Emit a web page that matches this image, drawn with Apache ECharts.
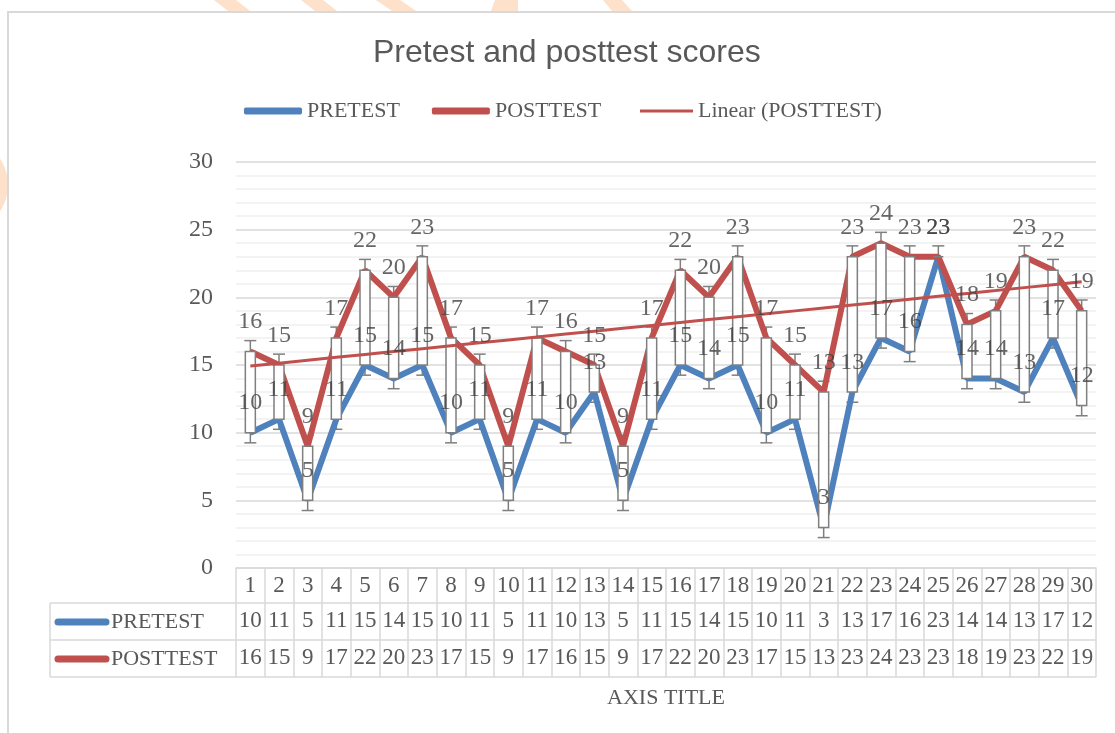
<!DOCTYPE html>
<html>
<head>
<meta charset="utf-8">
<title>Pretest and posttest scores</title>
<script src="https://cdn.jsdelivr.net/npm/echarts@6/dist/echarts.min.js"></script>
<style>
  html, body { margin: 0; padding: 0; background: #fff; }
  #chart { width: 1115px; height: 733px; }
</style>
</head>
<body>
<div id="chart"></div>
<script>
// data (x categories, two series)
const categories = ['1', '2', '3', '4', '5', '6', '7', '8', '9', '10',
  '11', '12', '13', '14', '15', '16', '17', '18', '19', '20',
  '21', '22', '23', '24', '25', '26', '27', '28', '29', '30']
const pretest = [10, 11, 5, 11, 15, 14, 15, 10, 11, 5, 11, 10, 13, 5, 11, 15, 14, 15, 10, 11, 3, 13, 17, 16, 23, 14, 14, 13, 17, 12]
const posttest = [16, 15, 9, 17, 22, 20, 23, 17, 15, 9, 17, 16, 15, 9, 17, 22, 20, 23, 17, 15, 13, 23, 24, 23, 23, 18, 19, 23, 22, 19]
const yTicks = [0, 5, 10, 15, 20, 25, 30]

const SERIF = "'Liberation Serif', 'DejaVu Serif', serif"
const SANS = "'Liberation Sans', Arial, sans-serif"
const BLUE = '#4F81BD'
const RED = '#C0504D'
const GRAY_TXT = '#595959'
const LINE_GRAY = '#d9d9d9'

// excel style standard error (error bars)
const stdErr = (arr) => {
  const m = arr.reduce((a, b) => a + b, 0) / arr.length
  const v = arr.reduce((a, b) => a + (b - m) * (b - m), 0) / (arr.length - 1)
  return Math.sqrt(v) / Math.sqrt(arr.length)
}
const preErr = stdErr(pretest)
const postErr = stdErr(posttest)

// linear trendline of posttest (least squares over x = 1..n)
const trend = (() => {
  const n = posttest.length
  const xs = posttest.map((_, i) => i + 1)
  const mx = xs.reduce((a, b) => a + b, 0) / n
  const my = posttest.reduce((a, b) => a + b, 0) / n
  let sxy = 0, sxx = 0
  xs.forEach((x, i) => { sxy += (x - mx) * (posttest[i] - my); sxx += (x - mx) * (x - mx) })
  const k = sxy / sxx
  return xs.map(x => +(my + k * (x - mx)).toFixed(3))
})()

const pairs = pretest.map((v, i) => [i, v, posttest[i]])

const chart = echarts.init(document.getElementById('chart'))

const labelStyle = { fontFamily: SERIF, fontSize: 24, color: '#404040' }
const tableText = { interval: 0, margin: 18, verticalAlign: 'middle', fontFamily: SERIF, fontSize: 23, color: GRAY_TXT }

const option = {
  animation: false,
  backgroundColor: '#fff',
  title: {
    text: 'Pretest and posttest scores',
    left: 373,
    top: 37,
    padding: 0,
    textStyle: { fontFamily: SANS, fontSize: 32, fontWeight: 'normal', color: GRAY_TXT }
  },
  legend: [
    {
      data: ['PRETEST', 'POSTTEST'],
      left: 244,
      top: 100,
      padding: 0,
      icon: 'roundRect',
      itemWidth: 58,
      itemHeight: 7,
      itemGap: 32,
      textStyle: { fontFamily: SERIF, fontSize: 22, color: GRAY_TXT }
    },
    {
      data: ['Linear (POSTTEST)'],
      left: 640,
      top: 100,
      padding: 0,
      icon: 'rect',
      itemWidth: 53,
      itemHeight: 3,
      textStyle: { fontFamily: SERIF, fontSize: 22, color: GRAY_TXT }
    }
  ],
  grid: { left: 236, right: 19, top: 162, bottom: 165 },
  xAxis: [
    {
      type: 'category',
      data: categories,
      boundaryGap: true,
      axisLine: { lineStyle: { color: LINE_GRAY, width: 1.5 } },
      axisTick: { show: true, interval: 0, length: 109, lineStyle: { color: LINE_GRAY, width: 1.5 } },
      axisLabel: tableText,
      name: 'AXIS TITLE',
      nameLocation: 'middle',
      nameGap: 119,
      nameTextStyle: { fontFamily: SERIF, fontSize: 22, color: GRAY_TXT }
    },
    {
      type: 'category',
      data: pretest.map(String),
      position: 'bottom',
      offset: 35,
      axisLine: { show: false },
      axisTick: { show: false },
      axisLabel: tableText
    },
    {
      type: 'category',
      data: posttest.map(String),
      position: 'bottom',
      offset: 72,
      axisLine: { show: false },
      axisTick: { show: false },
      axisLabel: tableText
    }
  ],
  yAxis: {
    type: 'value',
    min: yTicks[0],
    max: yTicks[yTicks.length - 1],
    interval: 5,
    axisLine: { show: false },
    axisTick: { show: false },
    axisLabel: { margin: 23, fontFamily: SERIF, fontSize: 24, color: GRAY_TXT },
    splitLine: { lineStyle: { color: LINE_GRAY, width: 1.5 } },
    minorTick: { show: false, splitNumber: 5 },
    minorSplitLine: { show: true, lineStyle: { color: '#efefef', width: 1.5 } }
  },
  series: [
    // error bars (under everything)
    {
      type: 'custom',
      name: 'err',
      z: 1,
      silent: true,
      data: pairs,
      encode: { x: 0, y: [1, 2] },
      renderItem: (params, api) => {
        const x = api.value(0)
        const a = api.coord([x, api.value(1)])
        const a2 = api.coord([x, api.value(1) - preErr])
        const b = api.coord([x, api.value(2)])
        const b2 = api.coord([x, api.value(2) + postErr])
        const st = { stroke: '#7f7f7f', lineWidth: 1.5 }
        return {
          type: 'group',
          children: [
            { type: 'line', shape: { x1: a[0], y1: a[1], x2: a2[0], y2: a2[1] }, style: st },
            { type: 'line', shape: { x1: a2[0] - 6, y1: a2[1], x2: a2[0] + 6, y2: a2[1] }, style: st },
            { type: 'line', shape: { x1: b[0], y1: b[1], x2: b2[0], y2: b2[1] }, style: st },
            { type: 'line', shape: { x1: b2[0] - 6, y1: b2[1], x2: b2[0] + 6, y2: b2[1] }, style: st }
          ]
        }
      }
    },
    {
      name: 'PRETEST',
      type: 'line',
      z: 2,
      data: pretest,
      symbol: 'none',
      lineStyle: { color: BLUE, width: 6 },
      itemStyle: { color: BLUE }
    },
    {
      name: 'POSTTEST',
      type: 'line',
      z: 2,
      data: posttest,
      symbol: 'none',
      lineStyle: { color: RED, width: 6 },
      itemStyle: { color: RED }
    },
    // up/down bars
    {
      type: 'custom',
      name: 'updown',
      z: 3,
      silent: true,
      data: pairs,
      encode: { x: 0, y: [1, 2] },
      renderItem: (params, api) => {
        const x = api.value(0)
        const a = api.coord([x, api.value(1)])
        const b = api.coord([x, api.value(2)])
        return {
          type: 'rect',
          shape: { x: a[0] - 5, y: Math.min(a[1], b[1]), width: 10, height: Math.abs(a[1] - b[1]) },
          style: { fill: '#fff', stroke: '#7f7f7f', lineWidth: 1.5 }
        }
      }
    },
    {
      name: 'Linear (POSTTEST)',
      type: 'line',
      z: 4,
      data: trend,
      symbol: 'none',
      lineStyle: { color: RED, width: 3 },
      itemStyle: { color: RED }
    },
    // data labels on top
    {
      name: 'preLabels',
      type: 'scatter',
      z: 6,
      silent: true,
      data: pretest,
      symbolSize: 1,
      itemStyle: { color: 'rgba(0,0,0,0)' },
      label: Object.assign({ show: true, position: 'top', distance: 17 }, labelStyle)
    },
    {
      name: 'postLabels',
      type: 'scatter',
      z: 6,
      silent: true,
      data: posttest,
      symbolSize: 1,
      itemStyle: { color: 'rgba(0,0,0,0)' },
      label: Object.assign({ show: true, position: 'top', distance: 17 }, labelStyle)
    }
  ],
  graphic: [
    // page decoration peeking above the chart frame
    { type: 'polygon', shape: { points: [[214, 0], [236, 0], [250, 11], [228, 11]] }, style: { fill: '#fde1cb' } },
    { type: 'polygon', shape: { points: [[301, 0], [323, 0], [337, 11], [315, 11]] }, style: { fill: '#fde1cb' } },
    { type: 'polygon', shape: { points: [[376, 0], [400, 0], [416, 11], [392, 11]] }, style: { fill: '#fde1cb' } },
    { type: 'polygon', shape: { points: [[495, 0], [518, 0], [518, 11], [491, 11]] }, style: { fill: '#fde1cb' } },
    { type: 'polygon', shape: { points: [[603, 0], [622, 0], [632, 11], [612, 11]] }, style: { fill: '#fde1cb' } },
    { type: 'circle', shape: { cx: -40, cy: 185, r: 48 }, style: { fill: '#fde1cb' } },
    // chart frame
    { type: 'rect', shape: { x: 8, y: 12, width: 1200, height: 800 }, style: { fill: 'none', stroke: LINE_GRAY, lineWidth: 2 } },
    // data table rules
    { type: 'line', shape: { x1: 50, y1: 603, x2: 1096, y2: 603 }, style: { stroke: LINE_GRAY, lineWidth: 1.5 } },
    { type: 'line', shape: { x1: 50, y1: 640, x2: 1096, y2: 640 }, style: { stroke: LINE_GRAY, lineWidth: 1.5 } },
    { type: 'line', shape: { x1: 50, y1: 677, x2: 1096, y2: 677 }, style: { stroke: LINE_GRAY, lineWidth: 1.5 } },
    { type: 'line', shape: { x1: 50, y1: 603, x2: 50, y2: 677 }, style: { stroke: LINE_GRAY, lineWidth: 1.5 } },
    // table legend keys
    { type: 'line', shape: { x1: 58, y1: 622, x2: 106, y2: 622 }, style: { stroke: BLUE, lineWidth: 7, lineCap: 'round' } },
    { type: 'text', x: 111, y: 622, style: { text: 'PRETEST', fontFamily: SERIF, fontSize: 22, fill: GRAY_TXT, verticalAlign: 'middle' } },
    { type: 'line', shape: { x1: 58, y1: 659, x2: 106, y2: 659 }, style: { stroke: RED, lineWidth: 7, lineCap: 'round' } },
    { type: 'text', x: 111, y: 659, style: { text: 'POSTTEST', fontFamily: SERIF, fontSize: 22, fill: GRAY_TXT, verticalAlign: 'middle' } }
  ]
}

chart.setOption(option)
</script>
</body>
</html>
